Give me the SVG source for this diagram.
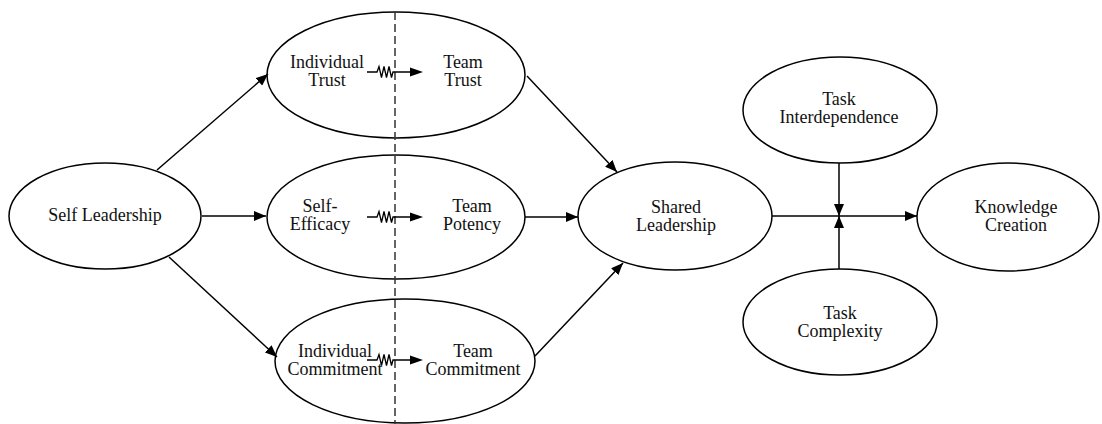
<svg xmlns="http://www.w3.org/2000/svg" width="1102" height="424" viewBox="0 0 1102 424">
<style>
.n{fill:#fff;stroke:#000;stroke-width:1.5}
.t{font-family:"Liberation Serif","Times New Roman",serif;font-size:18px;fill:#111;text-anchor:middle}
.c{fill:none;stroke:#000;stroke-width:1.5}
.z{fill:none;stroke:#000;stroke-width:1.3}
</style>
<defs>
<marker id="ah" markerWidth="12" markerHeight="10" refX="12" refY="5" orient="auto" markerUnits="userSpaceOnUse">
<path d="M0,0 L12,5 L0,10 Z" fill="#000"/>
</marker>
</defs>
<rect width="1102" height="424" fill="#fff"/>
<g id="self-leadership">
<ellipse class="n" cx="105" cy="216" rx="96" ry="53"/>
<text class="t" x="105" y="221">Self Leadership</text>
</g>
<g id="trust">
<ellipse class="n" cx="396" cy="75" rx="129" ry="63"/>
<text class="t" x="327" y="68">Individual</text>
<text class="t" x="327" y="86">Trust</text>
<text class="t" x="463" y="68">Team</text>
<text class="t" x="463" y="86">Trust</text>
</g>
<g id="efficacy">
<ellipse class="n" cx="396" cy="217" rx="129" ry="62"/>
<text class="t" x="320" y="212">Self-</text>
<text class="t" x="320" y="230">Efficacy</text>
<text class="t" x="472" y="212">Team</text>
<text class="t" x="472" y="230">Potency</text>
</g>
<g id="commitment">
<ellipse class="n" cx="405" cy="361" rx="130" ry="62"/>
<text class="t" x="335" y="357">Individual</text>
<text class="t" x="335" y="375">Commitment</text>
<text class="t" x="473" y="357">Team</text>
<text class="t" x="473" y="375">Commitment</text>
</g>
<g id="shared-leadership">
<ellipse class="n" cx="675" cy="216" rx="97" ry="54"/>
<text class="t" x="676" y="213">Shared</text>
<text class="t" x="676" y="231">Leadership</text>
</g>
<g id="task-interdependence">
<ellipse class="n" cx="840" cy="110" rx="97" ry="53"/>
<text class="t" x="839" y="105">Task</text>
<text class="t" x="839" y="123">Interdependence</text>
</g>
<g id="task-complexity">
<ellipse class="n" cx="840" cy="322" rx="97" ry="53"/>
<text class="t" x="840" y="319">Task</text>
<text class="t" x="840" y="337">Complexity</text>
</g>
<g id="knowledge-creation">
<ellipse class="n" cx="1008" cy="217" rx="91" ry="54"/>
<text class="t" x="1016" y="213">Knowledge</text>
<text class="t" x="1016" y="231">Creation</text>
</g>
<g id="connectors">
<line x1="395" y1="12" x2="395" y2="424" stroke="#333" stroke-width="1.5" stroke-dasharray="8,4"/>
<line class="c" x1="157" y1="170" x2="268" y2="74" marker-end="url(#ah)"/>
<line class="c" x1="202" y1="216" x2="266" y2="216" marker-end="url(#ah)"/>
<line class="c" x1="169" y1="257" x2="277" y2="357" marker-end="url(#ah)"/>
<line class="c" x1="527" y1="76" x2="617" y2="172" marker-end="url(#ah)"/>
<line class="c" x1="525" y1="217" x2="578" y2="217" marker-end="url(#ah)"/>
<line class="c" x1="535" y1="356" x2="623" y2="263" marker-end="url(#ah)"/>
<line class="c" x1="772" y1="216" x2="917" y2="216" marker-end="url(#ah)"/>
<line class="c" x1="839" y1="163" x2="839" y2="216" marker-end="url(#ah)"/>
<line class="c" x1="839" y1="269" x2="839" y2="216" marker-end="url(#ah)"/>
<polyline class="z" points="367,72 377,72 379,66.5 381.5,77.5 384,66.5 386.5,77.5 389,66.5 391.5,77.5 393,72 411,72"/>
<path d="M410,67.5 L423,72 L410,76.5 Z"/>
<polyline class="z" points="367,217 377,217 379,211.5 381.5,222.5 384,211.5 386.5,222.5 389,211.5 391.5,222.5 393,217 411,217"/>
<path d="M410,212.5 L423,217 L410,221.5 Z"/>
<polyline class="z" points="367,360 377,360 379,354.5 381.5,365.5 384,354.5 386.5,365.5 389,354.5 391.5,365.5 393,360 411,360"/>
<path d="M410,355.5 L423,360 L410,364.5 Z"/>
</g>
</svg>
